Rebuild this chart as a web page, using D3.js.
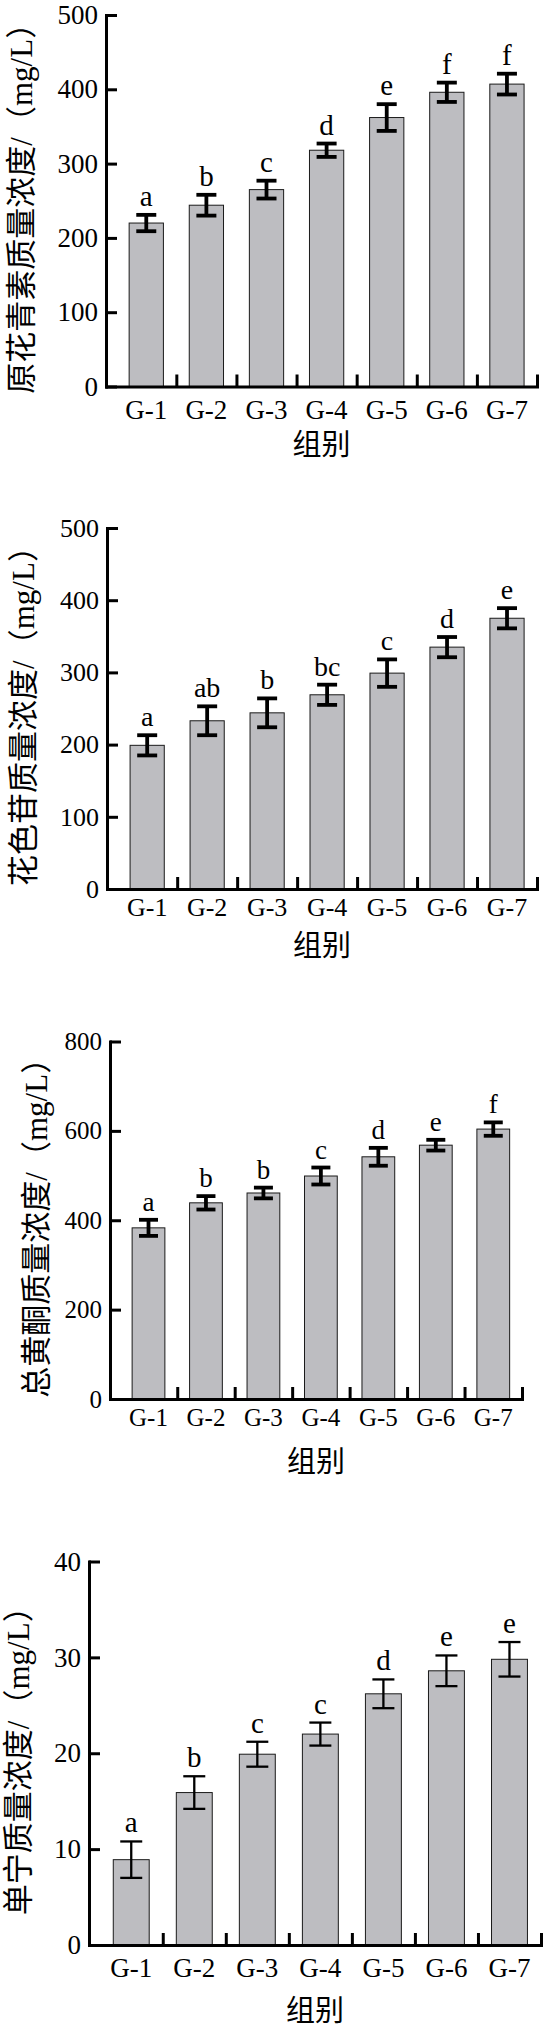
<!DOCTYPE html>
<meta charset="utf-8">
<style>
body { margin: 0; background: #fff; }
.axis path, .axis line { stroke: #000; stroke-width: 3px; }
.bar { fill: #bdbdc1; stroke: #1a1a1a; stroke-width: 1px; }
.err { stroke: #000; fill: none; }
text { fill: #000; }
</style>
<svg width="554" height="2031"></svg>
<script src="https://cdn.jsdelivr.net/npm/d3@7"></script>
<script>

var groups = ["G-1", "G-2", "G-3", "G-4", "G-5", "G-6", "G-7"];

// 原花青素
var procyanidinMean = [220, 244, 265, 318, 362, 396, 407];
var procyanidinSd   = [11, 14, 12, 9, 18, 13, 14];
var procyanidinSig  = ["a", "b", "c", "d", "e", "f", "f"];

// 花色苷
var anthocyaninMean = [199, 233, 244, 269, 299, 335, 375];
var anthocyaninSd   = [14, 20, 20, 14, 19, 14, 14];
var anthocyaninSig  = ["a", "ab", "b", "bc", "c", "d", "e"];

// 总黄酮
var flavonoidMean = [383, 439, 461, 499, 542, 568, 604];
var flavonoidSd   = [18, 15, 12, 19, 20, 12, 15];
var flavonoidSig  = ["a", "b", "b", "c", "d", "e", "f"];

// 单宁
var tanninMean = [8.9, 15.9, 19.9, 22.0, 26.2, 28.6, 29.8];
var tanninSd   = [1.9, 1.7, 1.3, 1.2, 1.5, 1.6, 1.8];
var tanninSig  = ["a", "b", "c", "c", "d", "e", "e"];

var yTicksA = [0, 100, 200, 300, 400, 500];
var yTicksB = [0, 200, 400, 600, 800];
var yTicksC = [0, 10, 20, 30, 40];

var xTitle = "组别";

// one layout per panel (position of the frame in the page)
var panels = [
  {mean: procyanidinMean, sd: procyanidinSd, sig: procyanidinSig, ticks: yTicksA,
   title: "原花青素质量浓度/（mg/L）",
   left: 106, right: 537, top: 15, bottom: 386.5, fs: 27, labDy: 32, titleDy: 55, yTitleX: 21, err: 3.8, cap: 20},
  {mean: anthocyaninMean, sd: anthocyaninSd, sig: anthocyaninSig, ticks: yTicksA,
   title: "花色苷质量浓度/（mg/L）",
   left: 107, right: 537, top: 528, bottom: 889, fs: 26, labDy: 27, titleDy: 54, yTitleX: 23, err: 3.8, cap: 20},
  {mean: flavonoidMean, sd: flavonoidSd, sig: flavonoidSig, ticks: yTicksB,
   title: "总黄酮质量浓度/（mg/L）",
   left: 110, right: 522, top: 1041.5, bottom: 1399, fs: 25, labDy: 27, titleDy: 60, yTitleX: 36, err: 3.8, cap: 19},
  {mean: tanninMean, sd: tanninSd, sig: tanninSig, ticks: yTicksC,
   title: "单宁质量浓度/（mg/L）",
   left: 89, right: 541, top: 1561.5, bottom: 1945, fs: 27, labDy: 32, titleDy: 63, yTitleX: 18, err: 2.3, cap: 22}
];

var svg = d3.select("svg");
var serif = "'Liberation Serif', 'Times New Roman', 'Noto Sans CJK SC', serif";
var cjk = "'Liberation Serif', 'Noto Sans CJK SC', sans-serif";

panels.forEach(function(p) {
  var g = svg.append("g");

  var x = d3.scaleLinear().domain([0.33, 7.5]).range([p.left, p.right]),
      y = d3.scaleLinear().domain([0, d3.max(p.ticks)]).range([p.bottom, p.top]);

  var unit = x(2) - x(1),
      bw = unit * 0.57;

  var rows = groups.map(function(name, i) {
    return {name: name, pos: i + 1, mean: p.mean[i], sd: p.sd[i], sig: p.sig[i]};
  });

  // bars
  g.selectAll(".bar")
    .data(rows)
    .enter().append("rect")
      .attr("class", "bar")
      .attr("x", function(d) { return x(d.pos) - bw / 2; })
      .attr("width", bw)
      .attr("y", function(d) { return y(d.mean); })
      .attr("height", function(d) { return y(0) - y(d.mean); });

  // error bars
  var e = g.selectAll(".errbar")
    .data(rows)
    .enter().append("g")
      .attr("class", "err")
      .style("stroke-width", p.err + "px");

  e.append("line")
      .attr("x1", function(d) { return x(d.pos); })
      .attr("x2", function(d) { return x(d.pos); })
      .attr("y1", function(d) { return y(d.mean + d.sd); })
      .attr("y2", function(d) { return y(d.mean - d.sd); });

  [1, -1].forEach(function(s) {
    e.append("line")
        .attr("x1", function(d) { return x(d.pos) - p.cap / 2; })
        .attr("x2", function(d) { return x(d.pos) + p.cap / 2; })
        .attr("y1", function(d) { return y(d.mean + s * d.sd); })
        .attr("y2", function(d) { return y(d.mean + s * d.sd); });
  });

  // significance letters
  g.selectAll(".sig")
    .data(rows)
    .enter().append("text")
      .attr("x", function(d) { return x(d.pos); })
      .attr("y", function(d) { return y(d.mean + d.sd) - 9; })
      .attr("text-anchor", "middle")
      .style("font", p.fs + 2 + "px " + serif)
      .text(function(d) { return d.sig; });

  // y axis
  var ya = g.append("g")
      .attr("class", "axis")
      .attr("transform", "translate(" + p.left + ",0)")
      .call(d3.axisLeft(y).tickValues(p.ticks).tickSize(-11).tickSizeOuter(0).tickPadding(8));
  ya.selectAll("text")
      .style("font", p.fs + "px " + serif);

  // x axis, ticks sit between the groups
  g.append("g")
      .attr("class", "axis")
      .attr("transform", "translate(0," + p.bottom + ")")
      .call(d3.axisBottom(x).tickValues(d3.range(1.5, 8, 1)).tickSize(-12).tickSizeOuter(0).tickFormat(""));

  g.selectAll(".axis path").attr("stroke-linecap", "square");

  g.selectAll(".xlab")
    .data(rows)
    .enter().append("text")
      .attr("x", function(d) { return x(d.pos); })
      .attr("y", p.bottom + p.labDy)
      .attr("text-anchor", "middle")
      .style("font", p.fs + "px " + serif)
      .text(function(d) { return d.name; });

  g.append("text")
      .attr("x", (p.left + p.right) / 2)
      .attr("y", p.bottom + p.titleDy)
      .attr("text-anchor", "middle")
      .attr("dominant-baseline", "central")
      .style("font", "29px 'Noto Sans CJK SC', sans-serif")
      .text(xTitle);

  g.append("text")
      .attr("transform", "translate(" + p.yTitleX + "," + (p.top + p.bottom) / 2 + ") rotate(-90)")
      .attr("text-anchor", "middle")
      .attr("dominant-baseline", "central")
      .style("font", "31px " + cjk)
      .text(p.title);
});

</script>
